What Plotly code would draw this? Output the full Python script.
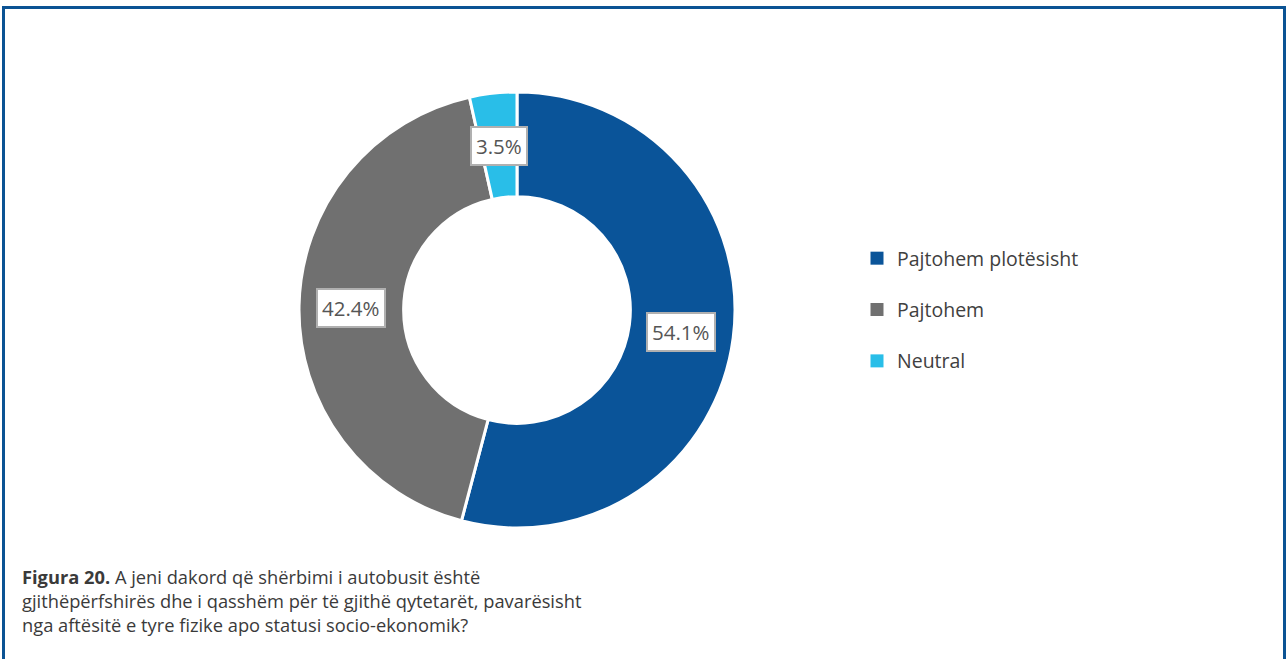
import math
import plotly.graph_objects as go

# Survey answers and their shares (%)
categories = ["Pajtohem plotësisht", "Pajtohem", "Neutral"]
shares = [54.1, 42.4, 3.5]
colors = ["#0A5499", "#707070", "#29BEE8"]

W, H = 1286, 659
# Donut placement (paper fractions)
dom_x = [299 / W, 735 / W]
dom_y = [1 - 528 / H, 1 - 92 / H]
hole = 0.52

fig = go.Figure()
fig.add_trace(go.Pie(
    labels=categories,
    values=shares,
    marker=dict(colors=colors, line=dict(color="white", width=3)),
    hole=hole,
    sort=False,
    direction="clockwise",
    rotation=0,
    textinfo="none",
    hoverinfo="label+percent",
    showlegend=False,
    domain=dict(x=dom_x, y=dom_y),
))

# Legend entries as square markers, one group each for spacing
for name, col in zip(categories, colors):
    fig.add_trace(go.Scatter(
        x=[None], y=[None], mode="markers", name=name,
        marker=dict(symbol="square", size=13, color=col),
        legendgroup=name, showlegend=True,
    ))

# Value labels in boxes at the middle of each ring segment
cx_px = (dom_x[0] + dom_x[1]) / 2 * W
cy_px = (1 - (dom_y[0] + dom_y[1]) / 2) * H
r_out = (dom_y[1] - dom_y[0]) * H / 2
r_mid = r_out * (1 + hole) / 2
total = sum(shares)
cum = 0.0
annotations = []
for v in shares:
    theta = 2 * math.pi * (cum + v / 2) / total
    cum += v
    px = cx_px + r_mid * math.sin(theta)
    py = cy_px - r_mid * math.cos(theta) + 1
    annotations.append(dict(
        x=px / W, y=1 - py / H, xref="paper", yref="paper",
        text=f"{v:.1f}%", showarrow=False,
        font=dict(family="Open Sans, sans-serif", size=20.5, color="#555555"),
        bgcolor="white", bordercolor="#B0B0B0", borderwidth=2, borderpad=4,
        xanchor="center", yanchor="middle",
    ))

annotations.append(dict(
    x=20 / W, y=1 - 562 / H, xref="paper", yref="paper",
    xanchor="left", yanchor="top", align="left", showarrow=False,
    text=("<b>Figura 20.</b> A jeni dakord që shërbimi i autobusit është<br>"
          "gjithëpërfshirës dhe i qasshëm për të gjithë qytetarët, pavarësisht<br>"
          "nga aftësitë e tyre fizike apo statusi socio-ekonomik?"),
    font=dict(family="Open Sans, sans-serif", size=18.3, color="#3A3A3A"),
))

fig.update_layout(
    width=W, height=H,
    margin=dict(l=0, r=0, t=0, b=0),
    paper_bgcolor="white", plot_bgcolor="white",
    xaxis=dict(visible=False), yaxis=dict(visible=False),
    legend=dict(
        x=857 / W, y=1 - 239 / H, xanchor="left", yanchor="top",
        font=dict(family="Open Sans, sans-serif", size=19.5, color="#404040"),
        tracegroupgap=23, itemclick=False, itemdoubleclick=False,
    ),
    annotations=annotations,
    shapes=[dict(
        type="rect", xref="paper", yref="paper",
        x0=3.5 / W, x1=1284.5 / W, y0=-0.05, y1=1 - 7.5 / H,
        line=dict(color="#0B5394", width=3), fillcolor="rgba(0,0,0,0)",
    )],
)

fig.write_html("out.html")
